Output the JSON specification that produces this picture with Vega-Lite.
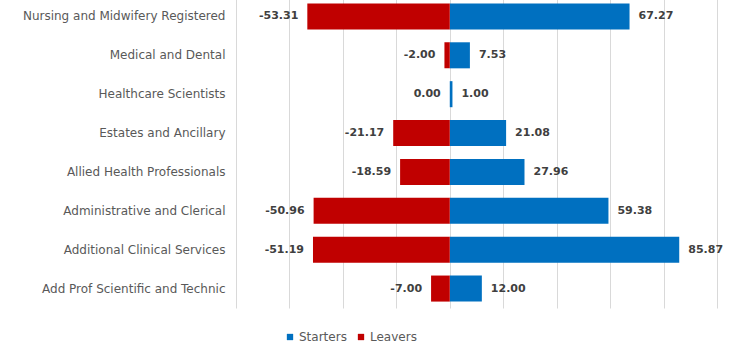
{
  "$schema": "https://vega.github.io/schema/vega-lite/v6.json",
  "width": 481,
  "height": 311,
  "autosize": {"type": "none"},
  "padding": {"left": 236, "top": -3, "right": 23, "bottom": 39},
  "background": "white",
  "config": {"view": {"stroke": null}, "font": "DejaVu Sans"},
  "data": {
    "values": [
      {"category": "Nursing and Midwifery Registered", "series": "Starters", "value": 67.27, "label": "67.27"},
      {"category": "Nursing and Midwifery Registered", "series": "Leavers", "value": -53.31, "label": "-53.31"},
      {"category": "Medical and Dental", "series": "Starters", "value": 7.53, "label": "7.53"},
      {"category": "Medical and Dental", "series": "Leavers", "value": -2.00, "label": "-2.00"},
      {"category": "Healthcare Scientists", "series": "Starters", "value": 1.00, "label": "1.00"},
      {"category": "Healthcare Scientists", "series": "Leavers", "value": 0.00, "label": "0.00"},
      {"category": "Estates and Ancillary", "series": "Starters", "value": 21.08, "label": "21.08"},
      {"category": "Estates and Ancillary", "series": "Leavers", "value": -21.17, "label": "-21.17"},
      {"category": "Allied Health Professionals", "series": "Starters", "value": 27.96, "label": "27.96"},
      {"category": "Allied Health Professionals", "series": "Leavers", "value": -18.59, "label": "-18.59"},
      {"category": "Administrative and Clerical", "series": "Starters", "value": 59.38, "label": "59.38"},
      {"category": "Administrative and Clerical", "series": "Leavers", "value": -50.96, "label": "-50.96"},
      {"category": "Additional Clinical Services", "series": "Starters", "value": 85.87, "label": "85.87"},
      {"category": "Additional Clinical Services", "series": "Leavers", "value": -51.19, "label": "-51.19"},
      {"category": "Add Prof Scientific and Technic", "series": "Starters", "value": 12.00, "label": "12.00"},
      {"category": "Add Prof Scientific and Technic", "series": "Leavers", "value": -7.00, "label": "-7.00"}
    ]
  },
  "encoding": {
    "y": {
      "field": "category",
      "type": "nominal",
      "sort": null,
      "scale": {"paddingInner": 0.33, "paddingOuter": 0.165},
      "axis": {
        "title": null,
        "domain": false,
        "ticks": false,
        "labelPadding": 11,
        "labelFontSize": 12,
        "labelColor": "#595959",
        "labelFont": "DejaVu Sans",
        "labelLimit": 300
      }
    },
    "x": {
      "field": "value",
      "type": "quantitative",
      "scale": {"domain": [-80, 100], "nice": false},
      "axis": {
        "title": null,
        "values": [-80, -60, -40, -20, 0, 20, 40, 60, 80, 100],
        "labels": false,
        "ticks": false,
        "domain": false,
        "grid": true,
        "gridColor": "#d9d9d9",
        "gridWidth": 1
      }
    }
  },
  "layer": [
    {
      "mark": {"type": "bar"},
      "encoding": {
        "color": {
          "field": "series",
          "type": "nominal",
          "scale": {"domain": ["Starters", "Leavers"], "range": ["#0070C0", "#C00000"]},
          "legend": {
            "title": null,
            "orient": "none",
            "direction": "horizontal",
            "legendX": 48,
            "legendY": 334,
            "symbolType": "square",
            "symbolSize": 40,
            "symbolStrokeWidth": 0,
            "labelFontSize": 12,
            "labelColor": "#595959",
            "labelFont": "DejaVu Sans",
            "labelOffset": 3,
            "columnPadding": 8
          }
        }
      }
    },
    {
      "transform": [{"filter": "datum.series === 'Starters'"}],
      "mark": {"type": "text", "align": "left", "dx": 9, "fontSize": 11, "fontWeight": "bold", "color": "#404040", "font": "DejaVu Sans"},
      "encoding": {"text": {"field": "label", "type": "nominal"}}
    },
    {
      "transform": [{"filter": "datum.series === 'Leavers'"}],
      "mark": {"type": "text", "align": "right", "dx": -9, "fontSize": 11, "fontWeight": "bold", "color": "#404040", "font": "DejaVu Sans"},
      "encoding": {"text": {"field": "label", "type": "nominal"}}
    }
  ]
}
